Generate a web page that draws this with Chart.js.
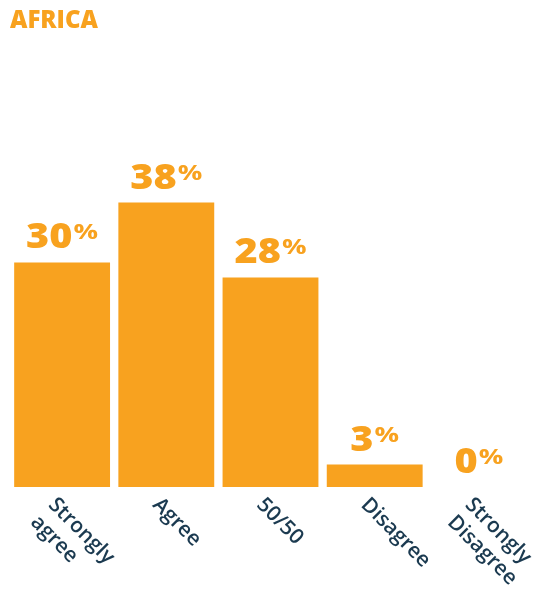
<!DOCTYPE html>
<html>
<head>
<meta charset="utf-8">
<script src="https://cdn.jsdelivr.net/npm/chart.js@4.4.1/dist/chart.umd.min.js"></script>
<style>
  html, body { margin: 0; padding: 0; background: #ffffff; }
  #wrap { width: 541px; height: 593px; position: relative; }
</style>
</head>
<body>
<div id="wrap"><canvas id="chart"></canvas></div>
<script>
// survey answers, one bar per answer
const categories = [["Strongly", "agree"], ["Agree"], ["50/50"], ["Disagree"], ["Strongly", "Disagree"]];
const values = [30, 38, 28, 3, 0];
const region = "AFRICA";

const ORANGE = "#F8A21F";
const NAVY = "#1B3A50";
const FONT = "'Open Sans', 'DejaVu Sans', sans-serif";

// text stretched sideways a little, the numbers use a wide face
function wideText(ctx, text, x, y, sx) {
    ctx.save();
    ctx.translate(x, y);
    ctx.scale(sx, 1);
    ctx.fillText(text, 0, 0);
    ctx.restore();
    return ctx.measureText(text).width * sx;
}

// percentage labels sitting on top of each bar
const valueLabels = {
    id: "valueLabels",
    afterDatasetsDraw(chart) {
        const ctx = chart.ctx;
        const meta = chart.getDatasetMeta(0);
        const numFont = "800 36px " + FONT;
        const pctFont = "700 21px " + FONT;
        const sNum = 1.1, sPct = 1.3;
        ctx.save();
        ctx.fillStyle = ORANGE;
        ctx.textBaseline = "alphabetic";
        ctx.textAlign = "left";
        meta.data.forEach((bar, i) => {
            const num = String(chart.data.datasets[0].data[i]);
            ctx.font = numFont;
            const wNum = ctx.measureText(num).width * sNum;
            ctx.font = pctFont;
            const wPct = ctx.measureText("%").width * sPct;
            const left = bar.x - (wNum + wPct + 1) / 2;
            const base = bar.y - 14;
            ctx.font = numFont;
            wideText(ctx, num, left, base, sNum);
            ctx.font = pctFont;
            wideText(ctx, "%", left + wNum + 1, base - 9, sPct);
        });
        ctx.restore();
    }
};

// slanted category names under the bars
const slantedTicks = {
    id: "slantedTicks",
    afterDraw(chart) {
        const ctx = chart.ctx;
        const xs = chart.scales.x;
        const bottom = chart.chartArea.bottom;
        ctx.save();
        ctx.fillStyle = NAVY;
        ctx.font = "600 21px " + FONT;
        ctx.textAlign = "left";
        ctx.textBaseline = "top";
        chart.data.labels.forEach((lines, i) => {
            const x = xs.getPixelForValue(i);
            ctx.save();
            ctx.translate(x - 3, bottom + 7);
            ctx.rotate(Math.PI / 4);
            lines.forEach((line, j) => ctx.fillText(line, 0, j * 25));
            ctx.restore();
        });
        ctx.restore();
    }
};

new Chart(document.getElementById("chart"), {
    type: "bar",
    data: {
        labels: categories,
        datasets: [{
            data: values,
            backgroundColor: ORANGE,
            borderWidth: 0,
            barPercentage: 0.92,
            categoryPercentage: 1
        }]
    },
    options: {
        responsive: true,
        maintainAspectRatio: false,
        animation: false,
        layout: { padding: { left: 10, right: 10, top: 0, bottom: 106 } },
        scales: {
            x: { display: false },
            y: { display: false, min: 0, max: 50 }
        },
        plugins: {
            legend: { display: false },
            tooltip: { enabled: false },
            title: {
                display: true,
                text: region,
                align: "start",
                color: ORANGE,
                font: { family: FONT, size: 24, weight: "800", lineHeight: 1.2 },
                padding: { top: 7, bottom: 77 }
            }
        }
    },
    plugins: [valueLabels, slantedTicks]
});
</script>
</body>
</html>
